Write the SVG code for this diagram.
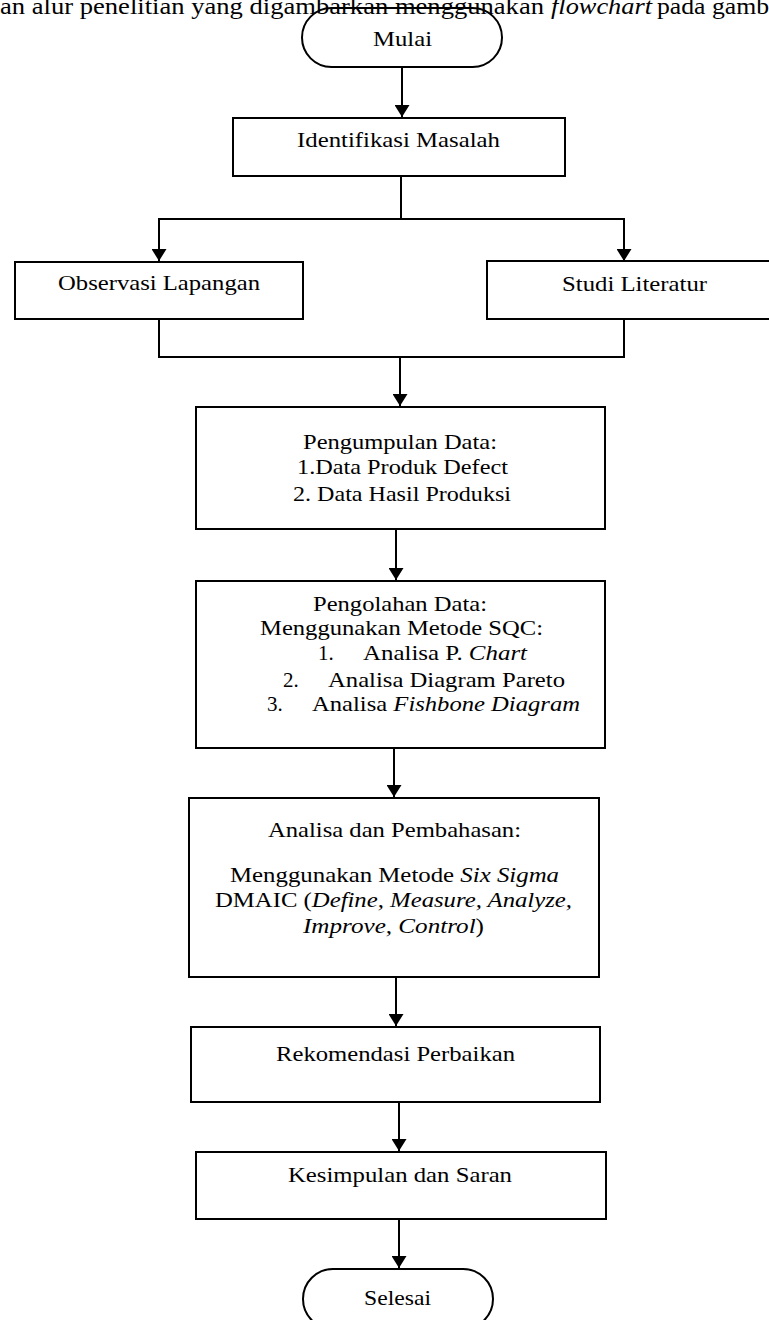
<svg xmlns="http://www.w3.org/2000/svg" width="769" height="1320" viewBox="0 0 769 1320">
<style>
.box{fill:#fff;stroke:#000;stroke-width:2}
.t{font-family:"Liberation Serif","Times New Roman",serif;font-size:21px;fill:#000}
.h{font-family:"Liberation Serif","Times New Roman",serif;font-size:23px;fill:#000}
.i{font-style:italic}
.c{fill:none;stroke:#000;stroke-width:2}
</style>
<defs>
<marker id="ah" markerUnits="userSpaceOnUse" viewBox="0 0 12 15" markerWidth="12" markerHeight="15" refX="12" refY="7.5" orient="auto">
<path d="M0,0 L12,7.5 L0,15 Z" fill="#000"/>
</marker>
</defs>
<rect width="769" height="1320" fill="#fff"/>
<g id="connectors">
<path class="c" d="M402,68 V117" marker-end="url(#ah)"/>
<path class="c" d="M401,176 V219"/>
<path class="c" d="M402,219 H159 V261" marker-end="url(#ah)"/>
<path class="c" d="M400,219 H624 V261" marker-end="url(#ah)"/>
<path class="c" d="M159,319 V357 H624 V319"/>
<path class="c" d="M400,357 V406" marker-end="url(#ah)"/>
<path class="c" d="M396,529 V580" marker-end="url(#ah)"/>
<path class="c" d="M394,748 V797" marker-end="url(#ah)"/>
<path class="c" d="M396,977 V1026" marker-end="url(#ah)"/>
<path class="c" d="M399,1102 V1151" marker-end="url(#ah)"/>
<path class="c" d="M399,1219 V1268" marker-end="url(#ah)"/>
</g>
<g id="mulai">
<rect class="box" x="302" y="8" width="200" height="59" rx="29.5"/>
<text class="t" x="373" y="46" textLength="59" lengthAdjust="spacingAndGlyphs">Mulai</text>
</g>
<g id="header">
<text class="h" x="0" y="14" textLength="544" lengthAdjust="spacingAndGlyphs">an alur penelitian yang digambarkan menggunakan</text>
<text class="h i" x="551" y="14" textLength="101" lengthAdjust="spacingAndGlyphs">flowchart</text>
<text class="h" x="657" y="14" textLength="112" lengthAdjust="spacingAndGlyphs">pada gamb</text>
</g>
<g id="identifikasi">
<rect class="box" x="233" y="118" width="332" height="58"/>
<text class="t" x="297" y="147" textLength="203" lengthAdjust="spacingAndGlyphs">Identifikasi Masalah</text>
</g>
<g id="observasi">
<rect class="box" x="15" y="262" width="288" height="57"/>
<text class="t" x="58" y="290" textLength="202" lengthAdjust="spacingAndGlyphs">Observasi Lapangan</text>
</g>
<g id="studi">
<rect class="box" x="487" y="261" width="292" height="58"/>
<text class="t" x="562" y="291" textLength="145" lengthAdjust="spacingAndGlyphs">Studi Literatur</text>
</g>
<g id="pengumpulan">
<rect class="box" x="196" y="407" width="409" height="122"/>
<text class="t" x="303" y="449" textLength="194" lengthAdjust="spacingAndGlyphs">Pengumpulan Data:</text>
<text class="t" x="297" y="474" textLength="211" lengthAdjust="spacingAndGlyphs">1.Data Produk Defect</text>
<text class="t" x="293" y="501" textLength="218" lengthAdjust="spacingAndGlyphs">2. Data Hasil Produksi</text>
</g>
<g id="pengolahan">
<rect class="box" x="196" y="581" width="409" height="167"/>
<text class="t" x="313" y="611" textLength="174" lengthAdjust="spacingAndGlyphs">Pengolahan Data:</text>
<text class="t" x="260" y="635" textLength="283" lengthAdjust="spacingAndGlyphs">Menggunakan Metode SQC:</text>
<text class="t" x="318" y="660">1.</text>
<text class="t" x="363" y="660" textLength="164" lengthAdjust="spacingAndGlyphs">Analisa P. <tspan class="i">Chart</tspan></text>
<text class="t" x="283" y="687">2.</text>
<text class="t" x="328" y="687" textLength="237" lengthAdjust="spacingAndGlyphs">Analisa Diagram Pareto</text>
<text class="t" x="267" y="711">3.</text>
<text class="t" x="312" y="711" textLength="268" lengthAdjust="spacingAndGlyphs">Analisa <tspan class="i">Fishbone Diagram</tspan></text>
</g>
<g id="analisa">
<rect class="box" x="189" y="798" width="410" height="179"/>
<text class="t" x="268" y="837" textLength="253" lengthAdjust="spacingAndGlyphs">Analisa dan Pembahasan:</text>
<text class="t" x="230" y="882" textLength="329" lengthAdjust="spacingAndGlyphs">Menggunakan Metode <tspan class="i">Six Sigma</tspan></text>
<text class="t" x="215" y="907" textLength="357" lengthAdjust="spacingAndGlyphs">DMAIC (<tspan class="i">Define, Measure, Analyze,</tspan></text>
<text class="t" x="303" y="933" textLength="181" lengthAdjust="spacingAndGlyphs"><tspan class="i">Improve, Control</tspan>)</text>
</g>
<g id="rekomendasi">
<rect class="box" x="191" y="1027" width="409" height="75"/>
<text class="t" x="276" y="1061" textLength="239" lengthAdjust="spacingAndGlyphs">Rekomendasi Perbaikan</text>
</g>
<g id="kesimpulan">
<rect class="box" x="196" y="1152" width="410" height="67"/>
<text class="t" x="288" y="1182" textLength="224" lengthAdjust="spacingAndGlyphs">Kesimpulan dan Saran</text>
</g>
<g id="selesai">
<rect class="box" x="303" y="1269" width="190" height="60" rx="30"/>
<text class="t" x="364" y="1305" textLength="67" lengthAdjust="spacingAndGlyphs">Selesai</text>
</g>
</svg>
